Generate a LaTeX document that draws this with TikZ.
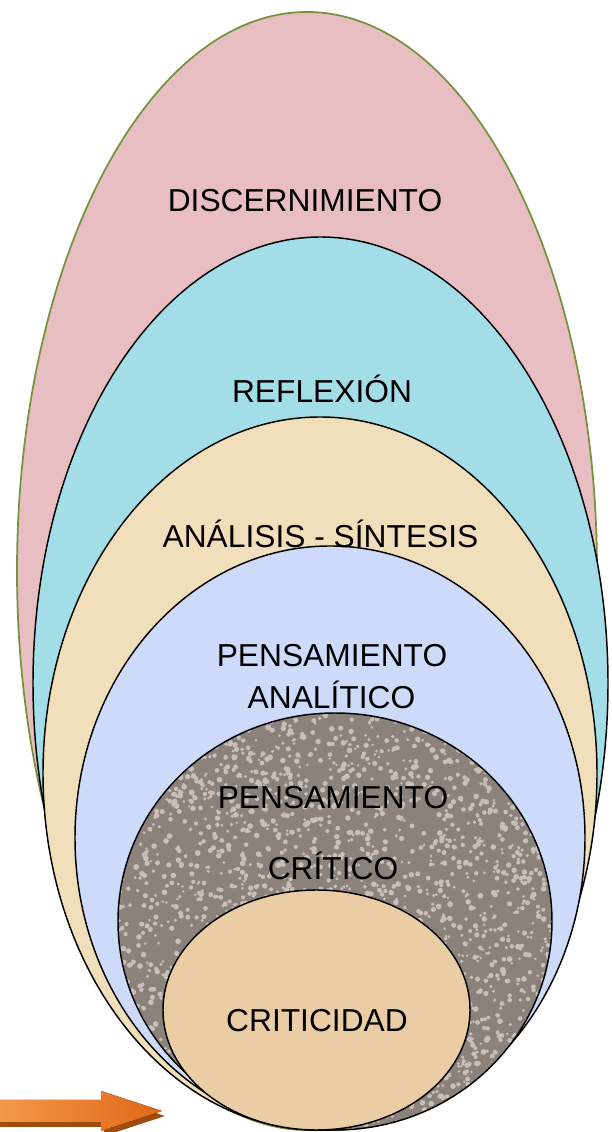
\documentclass[tikz,border=0pt]{standalone}
\usepackage{fontspec}
\setmainfont{Liberation Sans}
\usetikzlibrary{positioning}

\definecolor{discpink}{RGB}{232,190,194}
\definecolor{reflblue}{RGB}{163,222,232}
\definecolor{anastan}{RGB}{241,222,186}
\definecolor{panalav}{RGB}{206,218,250}
\definecolor{pcrigray}{RGB}{140,130,124}
\definecolor{pcrispeck}{RGB}{200,192,184}
\definecolor{crittan}{RGB}{234,205,165}
\definecolor{rimgreen}{RGB}{118,146,60}
\definecolor{arrlight}{RGB}{243,152,72}
\definecolor{arrdark}{RGB}{224,104,24}
\definecolor{arrshadow}{RGB}{160,76,16}

\begin{document}
\begin{tikzpicture}[
		x=0.75pt, y=0.75pt,
		layer/.style={draw=black, line width=1.1pt},
		lvltext/.style={font=\fontsize{23.8}{28}\selectfont, anchor=base, inner sep=0pt}
		]
		\useasboundingbox (0,0) rectangle (611,1132);
		
		% ==========================================
		% NESTED LEVELS (outer to inner)
		% ==========================================
		\draw[fill=discpink, draw=rimgreen, line width=1.3pt] (307,561) ellipse [x radius=290, y radius=559];
		\draw[layer, fill=reflblue] (320.5,448.5) ellipse [x radius=287.5, y radius=446.5];
		\draw[layer, fill=anastan] (320,358.5) ellipse [x radius=277, y radius=356.5];
		\draw[layer, fill=panalav] (330,294) ellipse [x radius=255, y radius=292];
		
		% granite speckles
		\fill[pcrigray] (335,210.5) ellipse [x radius=217, y radius=208.5];
		\begin{scope}
			\clip (335,210.5) ellipse [x radius=217, y radius=208.5];
			\pgfmathsetseed{4711}
			\foreach \i in {1,...,2600}
				\fill[pcrispeck] (118+434*rnd,2+417*rnd) circle [radius=1.3+1.6*rnd];
		\end{scope}
		\draw[layer] (335,210.5) ellipse [x radius=217, y radius=208.5];
		\draw[layer, fill=crittan] (316.5,122) ellipse [x radius=153.5, y radius=120];
		
		% ==========================================
		% LEVEL NAMES
		% ==========================================
		\node[lvltext] (disc) at (305,920) {DISCERNIMIENTO};
		\node[lvltext] (refl) at (322,729) {REFLEXIÓN};
		\node[lvltext] (ansi) at (320.5,584) {ANÁLISIS - SÍNTESIS};
		\node[lvltext] (pana1) at (332,465) {PENSAMIENTO};
		\node[lvltext] (pana2) at (331.5,423) {ANALÍTICO};
		\node[lvltext] (pcri1) at (333,323) {PENSAMIENTO};
		\node[lvltext] (pcri2) at (333,252) {CRÍTICO};
		\node[lvltext] (crit) at (317,100) {CRITICIDAD};
		
		% ==========================================
		% ARROW
		% ==========================================
		\fill[arrshadow] (0,27) -- (104,27) -- (104,36) -- (165,16) -- (104,-4) -- (104,5) -- (0,5) -- cycle;
		\fill[left color=arrlight, right color=arrdark] (0,32) -- (101,32) -- (101,41) -- (162,21) -- (101,1) -- (101,10) -- (0,10) -- cycle;
		
	\end{tikzpicture}
\end{document}
